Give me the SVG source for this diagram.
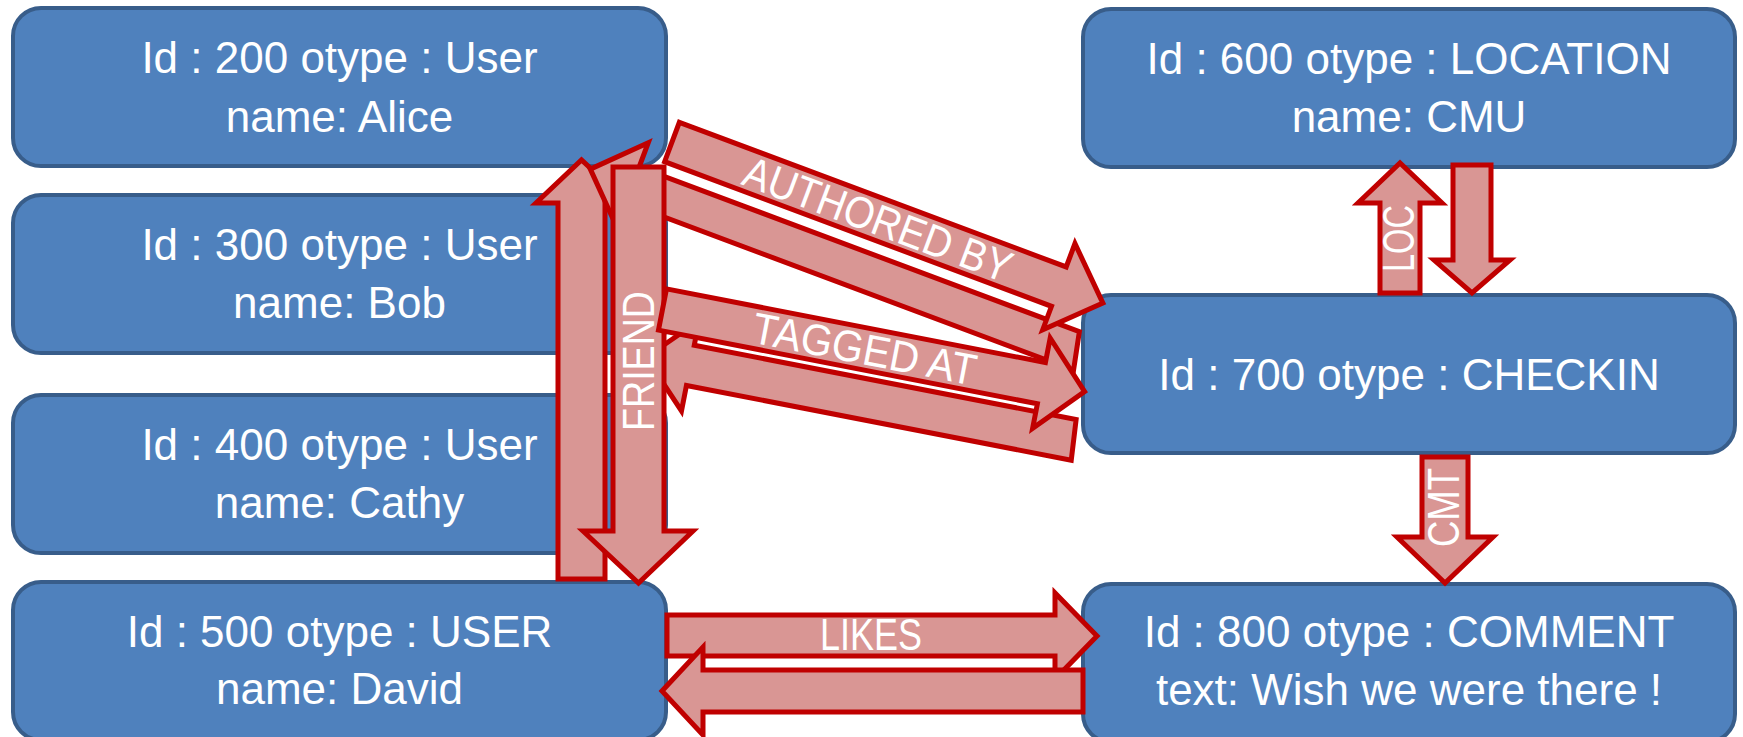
<svg xmlns="http://www.w3.org/2000/svg" width="1743" height="737" viewBox="0 0 1743 737">
<style>
.box{fill:#4F81BD;stroke:#385D8A;stroke-width:4}
.t{font-family:"Liberation Sans",Arial,sans-serif;font-size:44px;fill:#FFFFFF;text-anchor:middle}
.arr{fill:#D99694;stroke:#C00000;stroke-width:5;stroke-linejoin:miter}
.lbl{font-family:"Liberation Sans",Arial,sans-serif;font-size:44px;fill:#FFFFFF;text-anchor:middle}
</style>
<rect width="1743" height="737" fill="#FFFFFF"/>
<g id="nodes">
<g id="n200"><rect class="box" x="13" y="8" width="653" height="158" rx="28"/><text class="t" x="339.5" y="73">Id : 200 otype : User</text><text class="t" x="339.5" y="132">name: Alice</text></g>
<g id="n300"><rect class="box" x="13" y="195" width="653" height="158" rx="28"/><text class="t" x="339.5" y="260">Id : 300 otype : User</text><text class="t" x="339.5" y="318">name: Bob</text></g>
<g id="n400"><rect class="box" x="13" y="395" width="653" height="158" rx="28"/><text class="t" x="339.5" y="460">Id : 400 otype : User</text><text class="t" x="339.5" y="518">name: Cathy</text></g>
<g id="n500"><rect class="box" x="13" y="582" width="653" height="158" rx="28"/><text class="t" x="339.5" y="647">Id : 500 otype : USER</text><text class="t" x="339.5" y="704">name: David</text></g>
<g id="n600"><rect class="box" x="1083" y="9" width="652" height="158" rx="28"/><text class="t" x="1409" y="74">Id : 600 otype : LOCATION</text><text class="t" x="1409" y="132">name: CMU</text></g>
<g id="n700"><rect class="box" x="1083" y="295" width="652" height="158" rx="28"/><text class="t" x="1409" y="390">Id : 700 otype : CHECKIN</text></g>
<g id="n800"><rect class="box" x="1083" y="584" width="652" height="158" rx="28"/><text class="t" x="1409" y="647">Id : 800 otype : COMMENT</text><text class="t" x="1409" y="705">text: Wish we were there !</text></g>
</g>
<g id="connectors">
<path id="friend-up" class="arr" d="M558,579 L558,203 L536,203 L581.5,160 L628,203 L605,203 L605,579 Z"/>
<path id="authored-back" class="arr" transform="translate(672,142) rotate(20.5)" d="M-67,54 L-22,9 L-22,35 L448,35 L456,73 L-22,73 L-22,99 Z"/>
<path id="tagged-back" class="arr" transform="translate(662.5,309.5) rotate(11)" d="M-7,50 L38,4 L38,29 L427,29 L430,70 L38,70 L38,96 Z"/>
<path id="friend-down" class="arr" d="M613,167 L664,167 L664,531 L693,531 L638.5,583 L583,531 L613,531 Z"/>
<path id="authored-fwd" class="arr" transform="translate(672,142) rotate(20.5)" d="M0,-21 L413,-21 L413,-46 L460,0 L413,46 L413,21 L0,21 Z"/>
<path id="tagged-fwd" class="arr" transform="translate(662.5,309.5) rotate(11)" d="M0,-21 L386,-21 L386,-46 L430,0 L386,46 L386,21 L0,21 Z"/>
<path id="loc-up" class="arr" d="M1380,293 L1380,203 L1358,203 L1400,163 L1442,203 L1420,203 L1420,293 Z"/>
<path id="loc-down" class="arr" d="M1453,165 L1491,165 L1491,260 L1510,260 L1472,293 L1434,260 L1453,260 Z"/>
<path id="cmt" class="arr" d="M1422,457 L1468,457 L1468,537 L1493,537 L1445,583 L1397,537 L1422,537 Z"/>
<path id="likes-fwd" class="arr" d="M667,615 L1055,615 L1055,593 L1097,636 L1055,679 L1055,656 L667,656 Z"/>
<path id="likes-back" class="arr" d="M662,691 L703,647 L703,670 L1083,670 L1083,712 L703,712 L703,735 Z"/>
<g id="labels">
<text class="lbl" transform="translate(672,142) rotate(20.5)" x="220" y="15.5" textLength="283" lengthAdjust="spacingAndGlyphs">AUTHORED BY</text>
<text class="lbl" transform="translate(662.5,309.5) rotate(11)" x="206" y="15.5" textLength="227" lengthAdjust="spacingAndGlyphs">TAGGED AT</text>
<text class="lbl" transform="translate(638.5,361) rotate(-90)" x="0" y="15.5" textLength="140" lengthAdjust="spacingAndGlyphs">FRIEND</text>
<text class="lbl" transform="translate(1399,238.5) rotate(-90)" x="0" y="15" font-size="42" textLength="67" lengthAdjust="spacingAndGlyphs">LOC</text>
<text class="lbl" transform="translate(1444,507.5) rotate(-90)" x="0" y="15" font-size="42" textLength="79" lengthAdjust="spacingAndGlyphs">CMT</text>
<text class="lbl" x="871" y="650" textLength="102" lengthAdjust="spacingAndGlyphs">LIKES</text>
</g>
</g>
</svg>
